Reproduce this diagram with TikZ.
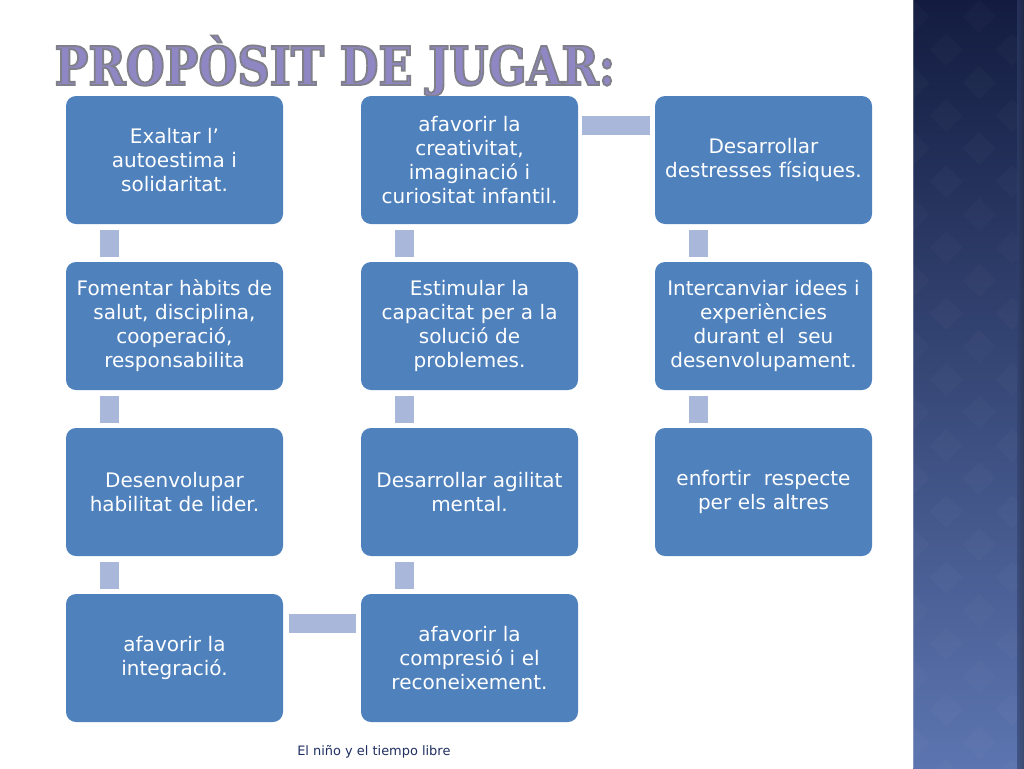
\documentclass[tikz,border=0pt]{standalone}
\usepackage{fontspec}
\setmainfont{DejaVu Sans}
\newfontfamily\titlefont{DejaVu Serif}[FakeStretch=0.84]
\usetikzlibrary{calc}
\definecolor{boxblue}{HTML}{4F81BD}
\definecolor{connblue}{HTML}{A9B8DA}
\definecolor{paneltop}{HTML}{131C40}
\definecolor{panelbot}{HTML}{5C75B0}
\definecolor{titlepurple}{HTML}{8F86C4}
\definecolor{footblue}{HTML}{1F2F60}
\newcommand{\outlineon}{\special{pdf:literal direct 2 Tr 1.4 w 0.50 0.50 0.54 RG}}
\newcommand{\outlineoff}{\special{pdf:literal direct 0 Tr}}
\tikzset{
  stepbox/.style={rounded corners=7.5pt, fill=boxblue, text=white,
    minimum width=162.75pt, minimum height=96pt, text width=158pt,
    align=center, inner sep=0pt, font=\fontsize{15}{18}\selectfont},
  conn/.style={draw=connblue, line width=14.5pt},
  titletext/.style={font=\titlefont\bfseries\fontsize{40}{40}\selectfont, inner sep=0pt},
}
\begin{document}
\begin{tikzpicture}[x=0.75pt,y=-0.75pt]
\useasboundingbox (0,0) rectangle (1024,768);
\fill[white] (0,0) rectangle (1024,768);
% right panel
\shade[top color=paneltop, bottom color=panelbot] (913,0) rectangle (1024,768);
\begin{scope}
\clip (913,0) rectangle (1019,768);
\foreach \i in {0,...,4}{
  \foreach \j in {0,...,24}{
    \pgfmathtruncatemacro{\parity}{mod(\i+\j,2)}
    \ifnum\parity=0
      \fill[white,opacity=0.018] ($(913,0)+(\i*33,\j*33)$) -- ++(16.5,16.5) -- ++(-16.5,16.5) -- ++(-16.5,-16.5) -- cycle;
    \fi
  }
}
\end{scope}
\shade[left color=paneltop!60!panelbot, right color=black!60!panelbot, opacity=0.6] (1017,0) rectangle (1024,768);
\draw[white,opacity=0.25,line width=1pt] (913.5,0) -- (913.5,768);
% title
\node[titletext, text=titlepurple, anchor=base] (title) at (335,85) {\outlineon PROPÒSIT DE JUGAR:\outlineoff};
% boxes
\node[stepbox] (a1) at (174.5,160) {Exaltar l’\\autoestima i\\solidaritat.};
\node[stepbox] (a2) at (174.5,326) {Fomentar hàbits de\\salut, disciplina,\\cooperació,\\responsabilita};
\node[stepbox] (a3) at (174.5,492) {Desenvolupar\\habilitat de lider.};
\node[stepbox] (a4) at (174.5,658) {afavorir la\\integració.};
\node[stepbox] (b1) at (469.5,160) {afavorir la\\creativitat,\\imaginació i\\curiositat infantil.};
\node[stepbox] (b2) at (469.5,326) {Estimular la\\capacitat per a la\\solució de\\problemes.};
\node[stepbox] (b3) at (469.5,492) {Desarrollar agilitat\\mental.};
\node[stepbox] (b4) at (469.5,658) {afavorir la\\compresió i el\\reconeixement.};
\node[stepbox] (c1) at (763.5,160) {Desarrollar\\destresses físiques.};
\node[stepbox] (c2) at (763.5,326) {Intercanviar idees i\\experiències\\durant el\ \ seu\\desenvolupament.};
\node[stepbox] (c3) at (763.5,492) {enfortir\ \ respecte\\per els altres};
% vertical connectors
\draw[conn] ([shift={(43.5,6)}]a1.south west) -- ([shift={(43.5,-5)}]a2.north west);
\draw[conn] ([shift={(43.5,6)}]a2.south west) -- ([shift={(43.5,-5)}]a3.north west);
\draw[conn] ([shift={(43.5,6)}]a3.south west) -- ([shift={(43.5,-5)}]a4.north west);
\draw[conn] ([shift={(43.5,6)}]b1.south west) -- ([shift={(43.5,-5)}]b2.north west);
\draw[conn] ([shift={(43.5,6)}]b2.south west) -- ([shift={(43.5,-5)}]b3.north west);
\draw[conn] ([shift={(43.5,6)}]b3.south west) -- ([shift={(43.5,-5)}]b4.north west);
\draw[conn] ([shift={(43.5,6)}]c1.south west) -- ([shift={(43.5,-5)}]c2.north west);
\draw[conn] ([shift={(43.5,6)}]c2.south west) -- ([shift={(43.5,-5)}]c3.north west);
% horizontal connectors
\draw[conn] ([shift={(6,30)}]a4.north east) -- ([shift={(-5,30)}]b4.north west);
\draw[conn] ([shift={(4,30)}]b1.north east) -- ([shift={(-5,30)}]c1.north west);
% footer
\node[text=footblue, font=\fontsize{9.7}{12}\selectfont, anchor=west, inner sep=0pt] (foot) at (297,752) {El niño y el tiempo libre};
\end{tikzpicture}
\end{document}
